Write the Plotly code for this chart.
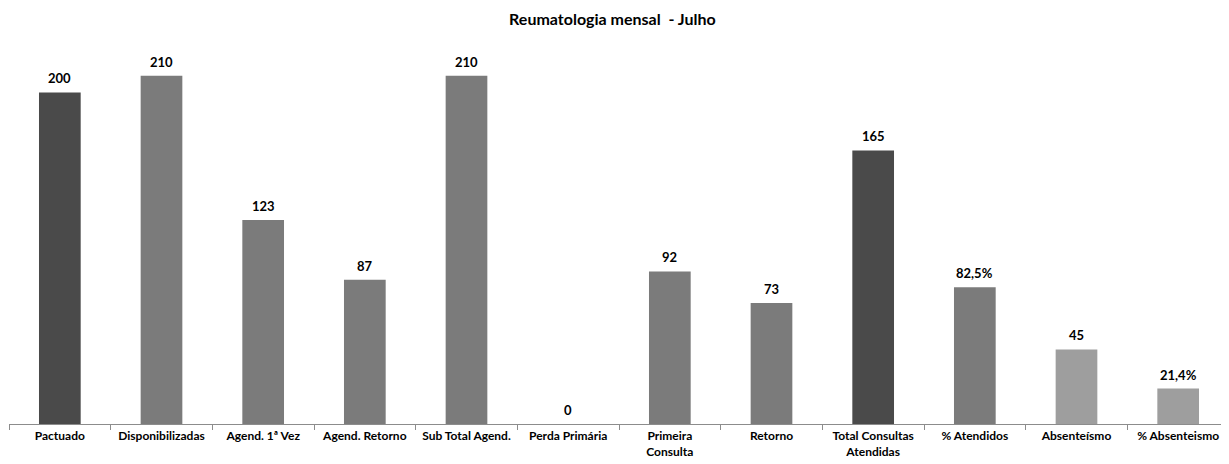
import plotly.graph_objects as go

categories = ["Pactuado", "Disponibilizadas", "Agend. 1ª Vez", "Agend. Retorno", "Sub Total Agend.",
              "Perda Primária", "Primeira<br>Consulta", "Retorno", "Total Consultas<br>Atendidas",
              "% Atendidos", "Absenteísmo", "% Absenteismo"]
values = [200, 210, 123, 87, 210, 0, 92, 73, 165, 82.5, 45, 21.4]
labels = ["200", "210", "123", "87", "210", "0", "92", "73", "165", "82,5%", "45", "21,4%"]
colors = ["#4a4a4a", "#7b7b7b", "#7b7b7b", "#7b7b7b", "#7b7b7b", "#7b7b7b", "#7b7b7b", "#7b7b7b",
          "#4a4a4a", "#7b7b7b", "#9e9e9e", "#9e9e9e"]

fig = go.Figure(go.Bar(
    x=categories, y=values,
    marker=dict(color=colors, line=dict(width=0)),
    width=0.41, hoverinfo="x+y",
))

for c, v, t in zip(categories, values, labels):
    fig.add_annotation(x=c, y=v, text="<b>" + t + "</b>", showarrow=False, yanchor="middle", yshift=14,
                       font=dict(family="Lato", size=13, color="#000000"))

fig.update_layout(
    width=1221, height=456,
    margin=dict(l=1, r=0, t=42, b=40),
    paper_bgcolor="white", plot_bgcolor="white",
    title=dict(text="<b>Reumatologia mensal  - Julho</b>", x=0.495, xanchor="center", y=0.974, yanchor="middle",
               font=dict(family="Lato", size=16, color="#000000")),
    showlegend=False,
    font=dict(family="Lato"),
)
fig.update_xaxes(showline=True, linecolor="#8c8c8c", linewidth=1, ticks="outside", tickson="boundaries",
                 ticklen=5, tickcolor="#8c8c8c", tickangle=0, automargin=False, ticklabelstandoff=1,
                 tickfont=dict(family="Lato", size=12, color="#000000", weight="bold"))
fig.update_yaxes(range=[0, 225.6], visible=False, showgrid=False)

fig.write_html("out.html")
